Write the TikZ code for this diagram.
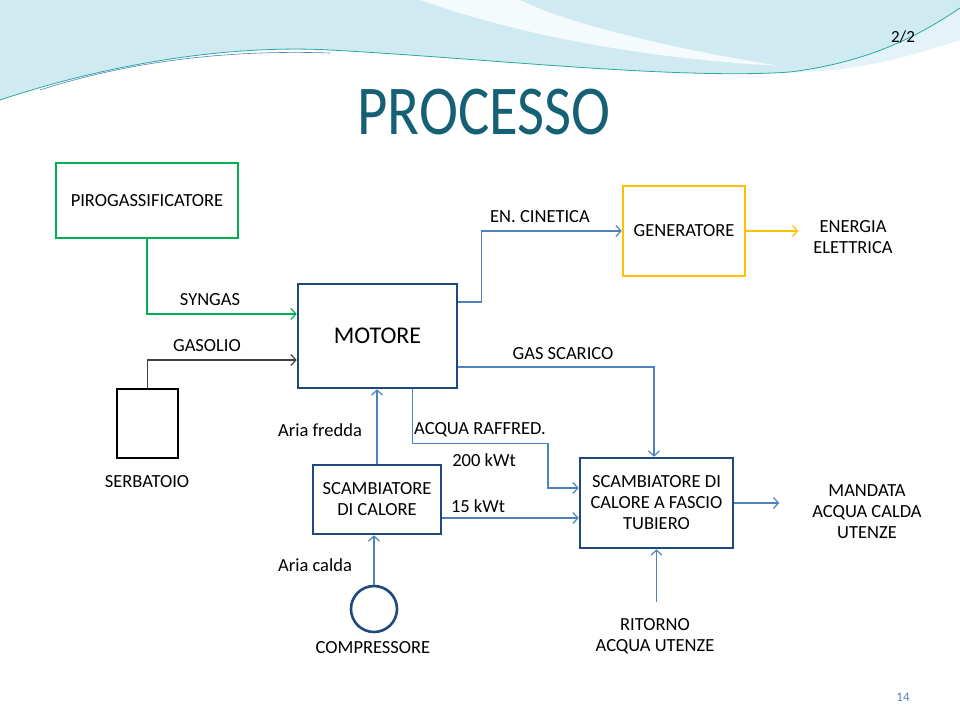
\documentclass[tikz,border=0pt]{standalone}
\usepackage{fontspec}
\setmainfont{Carlito}
\usetikzlibrary{arrows.meta}

\definecolor{boxgreen}{RGB}{0,176,80}
\definecolor{boxyellow}{RGB}{255,192,0}
\definecolor{boxblue}{RGB}{31,73,125}
\definecolor{lineblue}{RGB}{79,129,189}
\definecolor{titleteal}{RGB}{21,96,117}
\definecolor{wavefill}{RGB}{208,234,242}
\definecolor{waveline}{RGB}{40,170,160}

\tikzset{
  unit/.style={draw=boxblue, line width=2.6pt, minimum width=#1},
  label/.style={font=\fontsize{18.5}{21}\selectfont, align=center, inner sep=0pt},
  flow/.style={lineblue, line width=1.2pt, -{Straight Barb[length=5pt,width=11pt]}}
}

\begin{document}
\begin{tikzpicture}[x=1pt,y=1pt]
\useasboundingbox (0,0) rectangle (960,-720);
% background wave
\fill[wavefill] (0,0) -- (0,-100) .. controls (120,-60) and (240,-45) .. (330,-50)
  .. controls (480,-58) and (680,-80) .. (790,-72) .. controls (870,-62) and (920,-35) .. (960,-8) -- (960,0) -- cycle;
\fill[white, opacity=0.8] (420,0) .. controls (520,-35) and (640,-58) .. (780,-66)
  .. controls (650,-45) and (560,-20) .. (520,0) -- cycle;
\fill[wavefill!60] (790,-72) .. controls (870,-62) and (920,-35) .. (960,-8) -- (960,-40)
  .. controls (900,-60) and (850,-72) .. (790,-72) -- cycle;
\draw[waveline, line width=0.8pt] (0,-100) .. controls (120,-60) and (240,-45) .. (330,-50)
  .. controls (480,-58) and (680,-80) .. (790,-72) .. controls (870,-62) and (920,-35) .. (960,-8);
\draw[lineblue, line width=0.6pt] (40,-90) .. controls (140,-58) and (240,-50) .. (330,-53);
\node[font=\fontsize{17}{20}\selectfont, anchor=center] (pagelab) at (903,-37) {2/2};

% title
\node[font=\fontsize{70}{74}\selectfont, text=titleteal, xscale=0.84] (title) at (484,-112) {PROCESSO};

% units
\node[unit=182pt, draw=boxgreen, minimum height=75pt, label] (piro) at (147,-200.5) {PIROGASSIFICATORE};
\node[unit=159pt, minimum height=104pt, label, font=\fontsize{24}{28}\selectfont] (motore) at (377.5,-336) {MOTORE};
\node[unit=61pt, draw=black, minimum height=69pt] (serb) at (147.5,-423.5) {};
\node[unit=122pt, draw=boxyellow, minimum height=90pt, label] (gen) at (684,-231) {GENERATORE};
\node[unit=128pt, minimum height=69pt, label] (scamb) at (377,-499.5) {SCAMBIATORE\\DI CALORE};
\node[unit=153pt, minimum height=90pt, label] (fascio) at (656.5,-503) {SCAMBIATORE DI\\CALORE A FASCIO\\TUBIERO};
\node[circle, draw=boxblue, line width=2.6pt, minimum size=46pt] (comp) at (374,-609) {};

% names
\node[label] (serblab) at (147,-482) {SERBATOIO};
\node[label] (complab) at (373,-648) {COMPRESSORE};
\node[label] (energia) at (853,-237) {ENERGIA\\ELETTRICA};
\node[label] (mandata) at (867,-512) {MANDATA\\ACQUA CALDA\\UTENZE};
\node[label] (ritorno) at (655,-636) {RITORNO\\ACQUA UTENZE};

% flow labels
\node[label] (syngas) at (210,-300) {SYNGAS};
\node[label] (gasolio) at (207,-346) {GASOLIO};
\node[label] (cinetica) at (540,-217) {EN. CINETICA};
\node[label] (scarico) at (563,-354) {GAS SCARICO};
\node[label] (fredda) at (320,-430) {Aria fredda};
\node[label] (calda) at (315,-565) {Aria calda};
\node[label] (acqua) at (480,-430) {ACQUA RAFFRED.};
\node[label] (kwa) at (484,-460) {200 kWt};
\node[label] (kwb) at (478,-506) {15 kWt};

% connectors
\draw[flow, boxgreen] (piro.south) |- ([yshift=22pt]motore.west);
\draw[flow, black!75] (serb.north) |- ([yshift=-24pt]motore.west);
\draw[flow] ([yshift=34pt]motore.east) -- ++(23,0) |- (gen.west);
\draw[flow, boxyellow] (gen.east) -- ++(52,0);
\draw[flow] ([yshift=-31pt]motore.east) -| ([xshift=-2.5pt]fascio.north);
\draw[flow] (scamb.north) -- (scamb.north |- motore.south);
\draw[flow] ([xshift=35pt]motore.south) -- ++(0,-54) -- ++(135.5,0) |- ([yshift=15pt]fascio.west);
\draw[flow] ([yshift=-15pt]fascio.west -| scamb.east) -- ([yshift=-15pt]fascio.west);
\draw[flow] (fascio.east) -- ++(45,0);
\draw[flow] ([yshift=-53pt]fascio.south) -- (fascio.south);
\draw[flow] (comp.north) -- (comp.north |- scamb.south);

% page number
\node[font=\fontsize{13}{15}\selectfont, text=lineblue] (pagenum) at (903,-697) {14};
\end{tikzpicture}
\end{document}
